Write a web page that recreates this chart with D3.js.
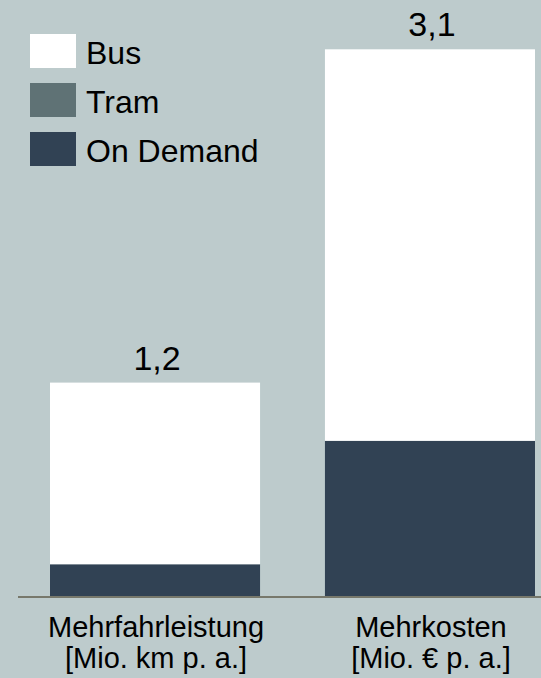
<!DOCTYPE html>
<html><head><meta charset="utf-8">
<script src="https://cdn.jsdelivr.net/npm/d3@7"></script>
<style>html,body{margin:0;padding:0;background:#bdcbcc;}svg{display:block;}</style>
</head><body>
<script>
const categories = ["Mehrfahrleistung", "Mehrkosten"];
const units = ["[Mio. km p. a.]", "[Mio. € p. a.]"];
const series = ["Bus", "Tram", "On Demand"];
const onDemand = [0.18, 0.88];
const tram = [0, 0];
const bus = [1.03, 2.22];
const totalLabels = ["1,2", "3,1"];
const colors = ["#ffffff", "#5f7275", "#314254"];

const W = 541, H = 678;
const FONT = "Liberation Sans, Arial, sans-serif";
const svg = d3.select("body").append("svg").attr("width", W).attr("height", H);
svg.append("rect").attr("width", W).attr("height", H).attr("fill", "#bdcbcc");

const rows = categories.map((c, i) => ({cat: c, "On Demand": onDemand[i], "Tram": tram[i], "Bus": bus[i]}));
const stacked = d3.stack().keys(["On Demand", "Tram", "Bus"])(rows);

const x = d3.scaleBand().domain(categories).range([18, 567]).paddingInner(0.236).paddingOuter(0.1164);
const y = d3.scaleLinear().domain([0, 3.1]).range([596, 49.3]);
const color = d3.scaleOrdinal().domain(series).range(colors);

svg.append("g").selectAll("g").data(stacked).join("g")
  .attr("fill", d => color(d.key))
  .selectAll("rect").data(d => d).join("rect")
  .attr("x", d => x(d.data.cat))
  .attr("width", x.bandwidth())
  .attr("y", d => y(d[1]))
  .attr("height", d => y(d[0]) - y(d[1]));

// baseline
svg.append("line").attr("x1", 18).attr("x2", W).attr("y1", y(0) + 1).attr("y2", y(0) + 1)
  .attr("stroke", "#77786b").attr("stroke-width", 2);

// total labels
svg.append("g").selectAll("text").data(categories).join("text")
  .attr("x", d => x(d) + x.bandwidth() / 2 + 2)
  .attr("y", (d, i) => y(onDemand[i] + tram[i] + bus[i]) - 13)
  .attr("text-anchor", "middle")
  .attr("font-family", FONT)
  .attr("font-size", 34)
  .attr("fill", "#000")
  .text((d, i) => totalLabels[i]);

// category labels
const cl = svg.append("g").selectAll("text").data(categories).join("text")
  .attr("text-anchor", "middle")
  .attr("font-family", FONT)
  .attr("font-size", 29)
  .attr("fill", "#000");
cl.append("tspan").attr("x", d => x(d) + x.bandwidth() / 2 + 1).attr("y", 637).text(d => d);
cl.append("tspan").attr("x", d => x(d) + x.bandwidth() / 2 + 1).attr("y", 668).text((d, i) => units[i]);

// legend
const lg = svg.append("g").selectAll("g").data(series).join("g")
  .attr("transform", (d, i) => `translate(30, ${34 + i * 49})`);
lg.append("rect").attr("width", 46).attr("height", 34).attr("fill", d => color(d));
lg.append("text").attr("x", 56).attr("y", 30)
  .attr("font-family", FONT)
  .attr("font-size", 32).attr("fill", "#000").text(d => d);
</script>
</body></html>
